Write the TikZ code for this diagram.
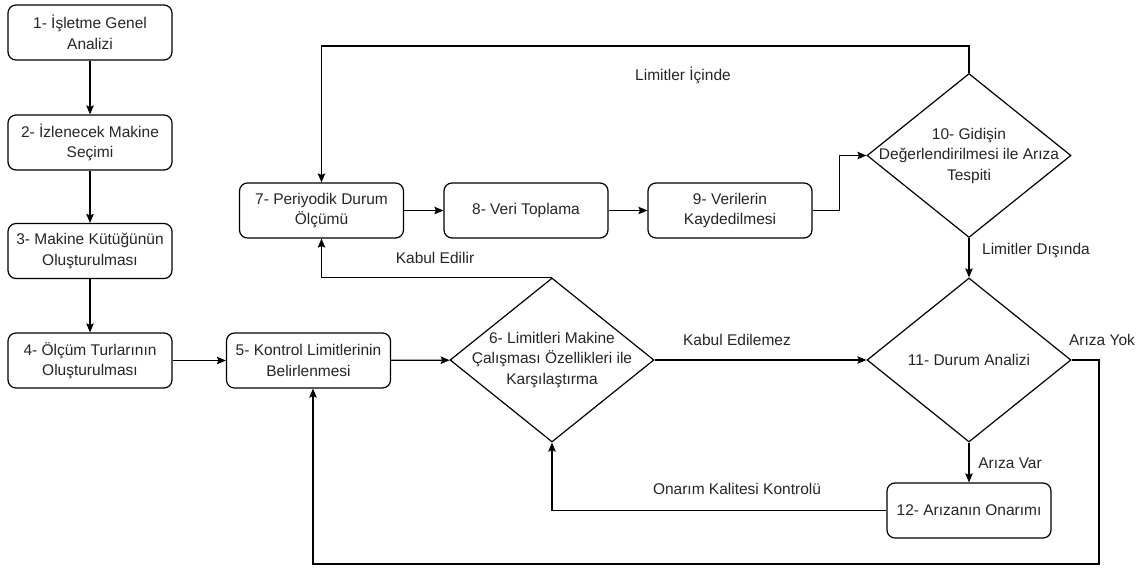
\documentclass[tikz,border=0pt]{standalone}
\usepackage{fontspec}
\setmainfont{Liberation Sans}
\usetikzlibrary{shapes.geometric,arrows.meta}
\begin{document}
\begin{tikzpicture}[x=1pt,y=-1pt,
  every node/.style={text=black!85},
  txt/.style={font=\fontsize{15.5}{20.5}\selectfont,align=center},
  stepbox/.style={draw,line width=1.2pt,rounded corners=8pt,minimum width=164pt,
    minimum height=55pt,inner sep=0pt,txt},
  decision/.style={draw,line width=1.2pt,diamond,inner sep=0pt,
    minimum width=204pt,minimum height=164pt},
  flow/.style={line width=1.2pt,-{Stealth[length=9pt,width=7.5pt,inset=1.5pt]}},
  lbl/.style={txt}]
\useasboundingbox[fill=white] (0,0) rectangle (1146,570);

% process steps
\node[stepbox] (b1) at (90,32.5) {1- İşletme Genel\\Analizi};
\node[stepbox] (b2) at (90,142.5) {2- İzlenecek Makine\\Seçimi};
\node[stepbox] (b3) at (90,251) {3- Makine Kütüğünün\\Oluşturulması};
\node[stepbox] (b4) at (90,360.5) {4- Ölçüm Turlarının\\Oluşturulması};
\node[stepbox] (b5) at (308.5,360.5) {5- Kontrol Limitlerinin\\Belirlenmesi};
\node[stepbox] (b7) at (321.5,210.5) {7- Periyodik Durum\\Ölçümü};
\node[stepbox] (b8) at (526,210.5) {8- Veri Toplama};
\node[stepbox] (b9) at (730,210.5) {9- Verilerin\\Kaydedilmesi};
\node[stepbox] (b12) at (969,510.5) {12- Arızanın Onarımı};

% decisions
\node[decision] (d6) at (552,360) {};
\node[txt] (t6) at (d6.center) {6- Limitleri Makine\\Çalışması Özellikleri ile\\Karşılaştırma};
\node[decision] (d10) at (969,155.5) {};
\node[txt] (t10) at (d10.center) {10- Gidişin\\Değerlendirilmesi ile Arıza\\Tespiti};
\node[decision] (d11) at (969,360) {};
\node[txt] (t11) at (d11.center) {11- Durum Analizi};

% routing points
\coordinate (top) at (0,46);
\coordinate (rb) at (1099,564);

% connectors
\draw[flow] (b1) -- (b2);
\draw[flow] (b2) -- (b3);
\draw[flow] (b3) -- (b4);
\draw[flow] (b4) -- (b5);
\draw[flow] (b5) -- (d6);
\draw[flow] (b7) -- (b8);
\draw[flow] (b8) -- (b9);
\draw[flow] (b9.east) -- ++(27,0) |- (d10.west);
\draw[flow] (d10.north) -- (d10.north |- top) -| (b7.north);
\draw[flow] (d10.south) -- (d11.north);
\draw[flow] (d6.north) -| (b7.south);
\draw[flow] (d6.east) -- (d11.west);
\draw[flow] (d11.south) -- (b12.north);
\draw[flow] (b12.west) -| (d6.south);
\draw[flow] (d11.east) -| (rb) -| ([xshift=4.5pt]b5.south);

% connector labels
\node[lbl] (l1) at (683,75) {Limitler İçinde};
\node[lbl] (l2) at (1036,251) {Limitler Dışında};
\node[lbl] (l3) at (435,258) {Kabul Edilir};
\node[lbl] (l4) at (737,340) {Kabul Edilemez};
\node[lbl] (l5) at (1102,340) {Arıza Yok};
\node[lbl] (l6) at (1010,463) {Arıza Var};
\node[lbl] (l7) at (737,489) {Onarım Kalitesi Kontrolü};
\end{tikzpicture}
\end{document}
